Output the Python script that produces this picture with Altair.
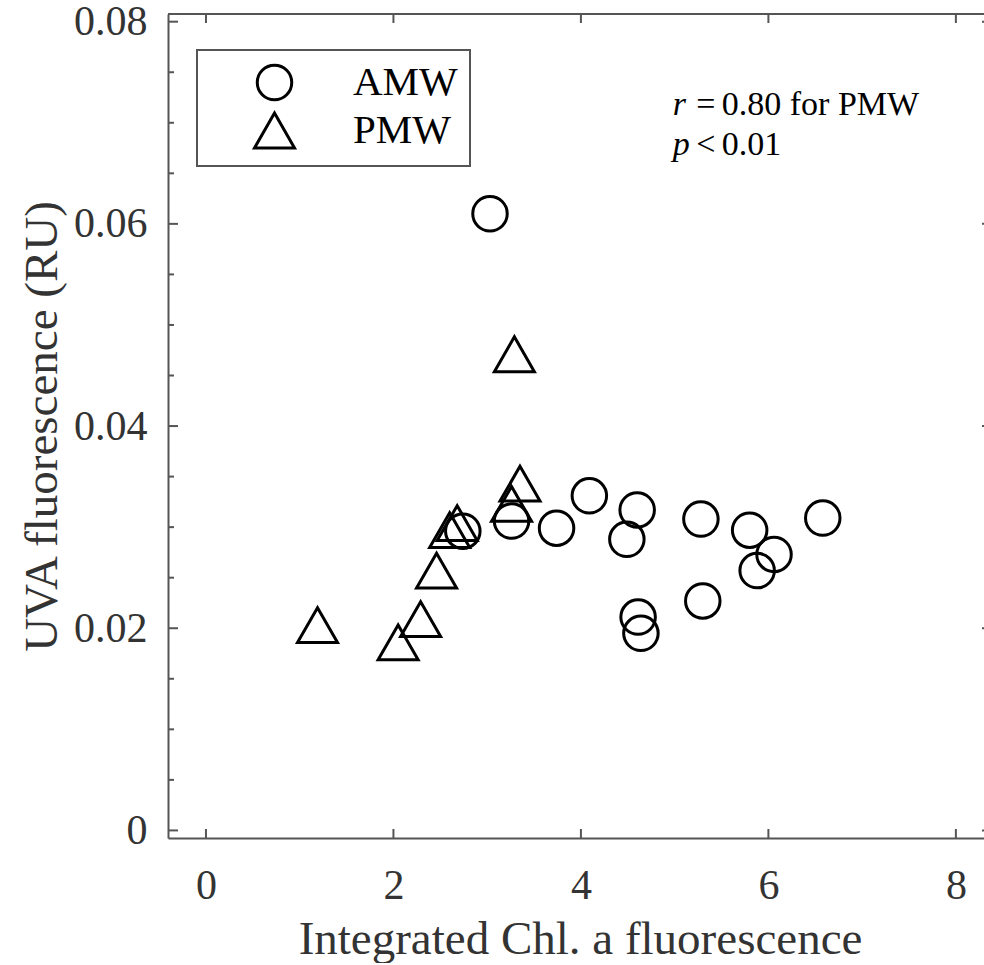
import altair as alt
import pandas as pd

# ---------------- data ----------------
amw_x = [3.03, 2.74, 3.26, 3.74, 4.09, 4.60, 4.49, 5.28, 5.80, 6.06, 5.88, 6.58, 4.61, 4.64, 5.30]
amw_y = [0.0610, 0.0296, 0.0306, 0.0299, 0.0331, 0.0317, 0.0288, 0.0308, 0.0297, 0.0273,
         0.0257, 0.0309, 0.0211, 0.0195, 0.0227]
pmw_x = [1.19, 2.05, 2.29, 2.46, 2.60, 2.68, 3.26, 3.35, 3.29]
pmw_y = [0.0203, 0.0186, 0.0209, 0.0257, 0.0297, 0.0304, 0.0323, 0.0343, 0.0471]
groups = ["AMW", "PMW"]

x_ticks = [0, 2, 4, 6, 8]
y_major = [0, 0.02, 0.04, 0.06, 0.08]
y_minor = [0.005, 0.01, 0.015, 0.025, 0.03, 0.035, 0.045, 0.05, 0.055, 0.065, 0.07, 0.075]

ann_sym = ["r", "p"]
ann_op = ["=", "<"]
ann_val = ["0.80 for PMW", "0.01"]
ann_y = [0.0708, 0.0668]
ann_x = [4.98, 4.98]

x_domain = [-0.405, 8.30]
y_domain = [-0.00075, 0.08076]

# ---------------- style ----------------
W, H = 816, 824
FONT = "Liberation Serif"
AX = "#555555"
TXT = "#333333"
TRI = "M0,-1.01L1.16,1.01L-1.16,1.01Z"

pts = pd.DataFrame({
    "x": amw_x + pmw_x,
    "y": amw_y + pmw_y,
    "group": [groups[0]] * len(amw_x) + [groups[1]] * len(pmw_x),
})

xscale = alt.Scale(domain=x_domain, nice=False, zero=False)
yscale = alt.Scale(domain=y_domain, nice=False, zero=False)

x_axis = alt.Axis(
    values=x_ticks, grid=False, ticks=False, tickSize=0,
    domainColor=AX, domainWidth=2,
    labelFont=FONT, labelFontSize=42, labelColor=TXT, labelPadding=27,
    labelFlush=False, labelOverlap=False,
    title="Integrated Chl. a fluorescence", titleFont=FONT, titleFontSize=47,
    titleFontWeight="normal", titleColor=TXT, titleX=412, titleY=115,
    titleBaseline="alphabetic", titleAlign="center",
)
y_axis = alt.Axis(
    values=y_major, grid=False, ticks=False, tickSize=0,
    domainColor=AX, domainWidth=2,
    labelExpr="datum.value == 0 ? '0' : format(datum.value, '.2f')",
    labelFont=FONT, labelFontSize=42, labelColor=TXT, labelPadding=21,
    labelFlush=False, labelOverlap=False,
    title="UVA fluorescence (RU)", titleFont=FONT, titleFontSize=47,
    titleFontWeight="normal", titleColor=TXT, titleX=-112, titleY=412,
    titleBaseline="alphabetic", titleAlign="center", titleAngle=270,
)

points = alt.Chart(pts).mark_point(
    filled=False, color="black", strokeWidth=3, size=1190, opacity=1
).encode(
    x=alt.X("x:Q", scale=xscale, axis=x_axis),
    y=alt.Y("y:Q", scale=yscale, axis=y_axis),
    shape=alt.Shape("group:N", scale=alt.Scale(domain=groups, range=["circle", TRI]),
                    legend=alt.Legend(
                        orient="none", legendX=29, legendY=36, title=None,
                        padding=12, rowPadding=1, symbolOffset=45, labelOffset=58,
                        labelFont=FONT, labelFontSize=41, labelColor="black",
                        strokeColor=AX, fillColor="white",
                        symbolSize=1190, symbolStrokeWidth=3,
                        symbolStrokeColor="black", symbolFillColor="transparent",
                    )),
)

ymaj_df = pd.DataFrame({"y": y_major})
ymin_df = pd.DataFrame({"y": y_minor})
xt_df = pd.DataFrame({"x": x_ticks})

left_major = alt.Chart(ymaj_df).mark_rule(color=AX, strokeWidth=2).encode(
    y=alt.Y("y:Q", scale=yscale, axis=y_axis), x=alt.value(0), x2=alt.value(10))
left_minor = alt.Chart(ymin_df).mark_rule(color=AX, strokeWidth=2).encode(
    y=alt.Y("y:Q", scale=yscale, axis=y_axis), x=alt.value(0), x2=alt.value(6))
right_major = alt.Chart(ymaj_df).mark_rule(color=AX, strokeWidth=2).encode(
    y=alt.Y("y:Q", scale=yscale, axis=y_axis), x=alt.value(W - 2), x2=alt.value(W))
bottom_ticks = alt.Chart(xt_df).mark_rule(color=AX, strokeWidth=2).encode(
    x=alt.X("x:Q", scale=xscale, axis=x_axis), y=alt.value(H), y2=alt.value(H - 9))
top_ticks = alt.Chart(xt_df).mark_rule(color=AX, strokeWidth=2).encode(
    x=alt.X("x:Q", scale=xscale, axis=x_axis), y=alt.value(0), y2=alt.value(9))
top_frame = alt.Chart(pd.DataFrame({"a": [0]})).mark_rule(color=AX, strokeWidth=2).encode(
    x=alt.value(0), x2=alt.value(W), y=alt.value(0))

ann = pd.DataFrame({"x": ann_x, "y": ann_y, "sym": ann_sym, "op": ann_op, "val": ann_val})
ann_base = alt.Chart(ann).encode(
    x=alt.X("x:Q", scale=xscale, axis=x_axis),
    y=alt.Y("y:Q", scale=yscale, axis=y_axis),
)
ann_sym_layer = ann_base.mark_text(font=FONT, fontSize=34, fontStyle="italic", align="left",
                                   baseline="alphabetic", color="black").encode(text="sym:N")
ann_op_layer = ann_base.mark_text(font=FONT, fontSize=34, align="center", dx=33,
                                  baseline="alphabetic", color="black").encode(text="op:N")
ann_val_layer = ann_base.mark_text(font=FONT, fontSize=34, align="left", dx=49,
                                   baseline="alphabetic", color="black").encode(text="val:N")

chart = alt.layer(
    points, left_major, left_minor, right_major, bottom_ticks, top_ticks, top_frame,
    ann_sym_layer, ann_op_layer, ann_val_layer,
).properties(
    width=W, height=H,
    padding={"left": 168, "top": 14, "right": 0, "bottom": 125},
    autosize=alt.AutoSizeParams(type="none"),
    background="white",
).configure_view(stroke="transparent").configure_legend(strokeWidth=2)

chart.save("out.html", embed_options={"renderer": "svg", "actions": False})
